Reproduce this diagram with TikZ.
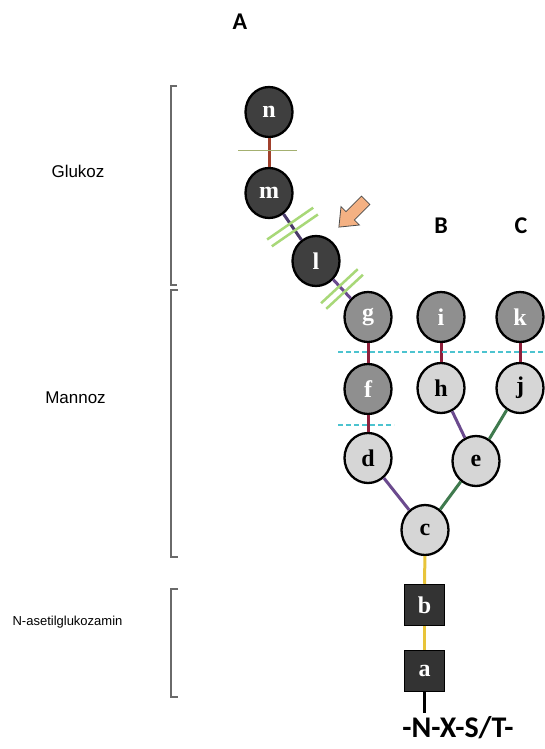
\documentclass[tikz,border=0pt]{standalone}
\usepackage{fontspec}
\setmainfont{Liberation Sans}
\newfontfamily\carl{Carlito}
\newfontfamily\lser{Liberation Serif}
\usetikzlibrary{calc,shapes.geometric}
\definecolor{darkfill}{HTML}{3F3F3F}
\definecolor{midfill}{HTML}{8F8F8F}
\definecolor{lightfill}{HTML}{D6D6D6}
\definecolor{boxfill}{HTML}{333333}
\definecolor{redlink}{HTML}{8E1F3B}
\definecolor{brownlink}{HTML}{A0402C}
\definecolor{purplelink}{HTML}{6B4A8E}
\definecolor{navylink}{HTML}{4A3A6A}
\definecolor{greenlink}{HTML}{3F7A4E}
\definecolor{yellowlink}{HTML}{E8C43A}
\definecolor{cyandash}{HTML}{4CC3CF}
\definecolor{barcol}{HTML}{A8D878}
\definecolor{olivebar}{HTML}{A4B070}
\definecolor{brkcol}{HTML}{6A6A6A}
\definecolor{arrowfill}{HTML}{F4B183}
\begin{document}
\begin{tikzpicture}[x=1pt,y=-1pt,
  sugar/.style={ellipse, draw=black, line width=2.3pt, minimum width=47pt, minimum height=50pt, inner sep=0pt,
    font=\lser\bfseries\fontsize{24}{24}\selectfont},
  darkc/.style={sugar, fill=darkfill, text=white},
  midc/.style={sugar, fill=midfill, text=white},
  lightc/.style={sugar, fill=lightfill, text=black},
  glc/.style={rectangle, draw=black, line width=1.5pt, fill=boxfill, text=white, minimum width=40pt, minimum height=41pt, inner sep=0pt,
    font=\lser\bfseries\fontsize{24}{24}\selectfont},
  link/.style={line width=3pt},
  bar/.style={draw=barcol, line width=2.5pt},
  cdash/.style={draw=cyandash, line width=2pt, dash pattern=on 5pt off 3pt},
  brk/.style={draw=brkcol, line width=1.6pt},
  biglbl/.style={anchor=base, font=\carl\bfseries\fontsize{24}{28}\selectfont},
  sidelbl/.style={anchor=base, font=\fontsize{17}{20}\selectfont}
]
\useasboundingbox (0,0) rectangle (544,749);
\fill[white] (0,0) rectangle (544,749);

% nodes
\node[darkc] (n) at (269,112) {n};
\node[darkc] (m) at (269,193) {m};
\node[darkc] (l) at (316,261) {l};
\node[midc] (g) at (368,317) {g};
\node[midc] (i) at (441,317) {i};
\node[midc] (k) at (520,317) {k};
\node[midc] (f) at (368,389) {f};
\node[lightc] (h) at (441,388) {h};
\node[lightc] (j) at (520,388) {j};
\node[lightc] (d) at (368,458) {d};
\node[lightc] (e) at (476,461) {e};
\node[lightc] (c) at (425,530) {c};
\node[glc] (b) at (424.5,605) {b};
\node[glc] (a) at (424.5,671) {a};
\node[anchor=base, font=\carl\bfseries\fontsize{30}{34}\selectfont] (seq) at (458,737) {-N-X-S/T-};
\coordinate (stem) at (424.5,713);

% connectors
\draw[link, brownlink] (n) -- (m);
\draw[link, navylink] (m) -- (l);
\draw[link, purplelink] (l) -- (g);
\draw[link, redlink] (g) -- (f);
\draw[link, redlink] (i) -- (h);
\draw[link, redlink] (k) -- (j);
\draw[link, redlink] (f) -- (d);
\draw[link, purplelink] (d) -- (c);
\draw[link, purplelink] (h) -- (e);
\draw[link, greenlink] (j) -- (e);
\draw[link, greenlink] (e) -- (c);
\draw[link, yellowlink] (c) -- (b);
\draw[link, yellowlink] (b) -- (a);
\draw[line width=2.5pt, black] (a) -- (stem);

% cleavage marks
\coordinate (nm) at ($(n)!0.475!(m)$);
\draw[draw=olivebar, line width=1.5pt] ([xshift=-31pt]nm) -- ([xshift=28pt]nm);
\foreach \t in {0.45,0.55}{
  \coordinate (p) at ($(m)!\t!(l)$);
  \draw[bar] ($(p)!28pt!90:(l)$) -- ($(p)!28pt!-90:(l)$);
  \coordinate (q) at ($(l)!\t!(g)$);
  \draw[bar] ($(q)!25pt!90:(g)$) -- ($(q)!25pt!-90:(g)$);
}
\draw[cdash] (338,352) -- (544,352);
\draw[cdash] (338,425) -- (394,425);

% block arrow
\draw[fill=arrowfill, draw=black!70, line width=0.8pt]
  (369.9,204.5) -- (361.5,196.1) -- (346.0,211.6) -- (341.0,206.6) -- (338.9,227.1)
  -- (359.4,225.0) -- (354.4,220.0) -- cycle;

% labels
\node[biglbl] (A) at (240,30) {A};
\node[biglbl] (B) at (441,233) {B};
\node[biglbl] (C) at (521,233) {C};
\node[sidelbl] (glk) at (78,177) {Glukoz};
\node[sidelbl] (man) at (75.5,403) {Mannoz};
\node[anchor=base, font=\fontsize{13}{16}\selectfont] (nac) at (67.5,625) {N-asetilglukozamin};

% brackets
\draw[brk] (177,86) -- (171,86) -- (171,285) -- (177,285);
\draw[brk] (178,290) -- (171,290) -- (171,557) -- (178,557);
\draw[brk] (178,589) -- (171,589) -- (171,697) -- (178,697);
\end{tikzpicture}
\end{document}
